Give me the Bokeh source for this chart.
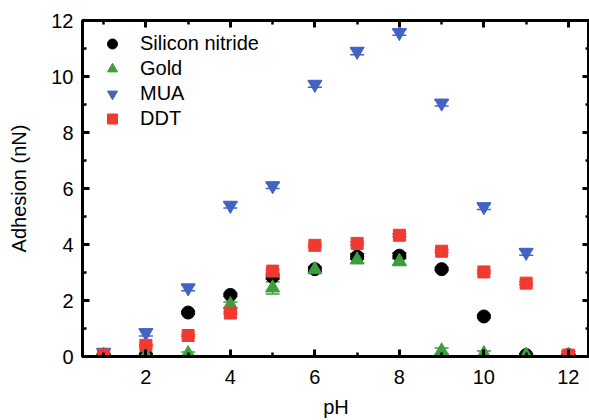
from bokeh.plotting import figure
from bokeh.models import (LinearAxis, SingleIntervalTicker, Range1d, Whisker,
                          ColumnDataSource, TeeHead, CustomJSTickFormatter)
from bokeh.embed import file_html
from bokeh.resources import INLINE

ph = [1, 2, 3, 4, 5, 6, 7, 8, 9, 10, 11, 12]
silicon_nitride = [0.05, 0.05, 1.57, 2.2, 2.85, 3.12, 3.57, 3.6, 3.12, 1.43, 0.05, 0.05]
sn_err = [0.04, 0.04, 0.05, 0.05, 0.08, 0.08, 0.1, 0.1, 0.05, 0.05, 0.04, 0.04]
gold = [0.05, 0.05, 0.1, 1.85, 2.45, 3.1, 3.45, 3.4, 0.2, 0.1, 0.05, 0.05]
gold_err = [0.04, 0.04, 0.06, 0.1, 0.22, 0.1, 0.12, 0.15, 0.1, 0.1, 0.04, 0.04]
mua = [0.15, 0.85, 2.45, 5.4, 6.1, 9.72, 10.9, 11.57, 9.05, 5.35, 3.72, 0.05]
mua_err = [0.1, 0.12, 0.1, 0.1, 0.1, 0.1, 0.12, 0.1, 0.1, 0.1, 0.1, 0.04]
ddt = [0.05, 0.4, 0.75, 1.55, 3.05, 3.97, 4.04, 4.33, 3.76, 3.02, 2.62, 0.05]
ddt_err = [0.04, 0.04, 0.04, 0.04, 0.05, 0.05, 0.05, 0.05, 0.05, 0.05, 0.05, 0.04]

series = [
    ("Silicon nitride", silicon_nitride, sn_err, "circle", "#000000", 13),
    ("Gold", gold, gold_err, "triangle", "#3c9f3c", 14),
    ("MUA", mua, mua_err, "inverted_triangle", "#4462c4", 14),
    ("DDT", ddt, ddt_err, "square", "#ef3a30", 12),
]

FONT = "Liberation Sans"

p = figure(width=589, height=420, x_range=Range1d(0.5, 12.5), y_range=Range1d(0, 12),
           output_backend="svg", toolbar_location=None,
           min_border_left=82, min_border_right=0, min_border_top=20, min_border_bottom=62)
p.xgrid.visible = False
p.ygrid.visible = False
p.outline_line_color = "black"
p.outline_line_width = 3
p.outline_line_alpha = 1

for name, vals, err, marker, color, size in series:
    src = ColumnDataSource(dict(x=ph, y=vals,
                                lo=[v - e for v, e in zip(vals, err)],
                                hi=[v + e for v, e in zip(vals, err)]))
    w = Whisker(source=src, base="x", upper="hi", lower="lo", line_color=color, line_width=1.5,
                upper_head=TeeHead(size=14, line_color=color, line_width=1.5),
                lower_head=TeeHead(size=14, line_color=color, line_width=1.5))
    p.add_layout(w)
    p.scatter("x", "y", source=src, marker=marker, size=size, fill_color=color,
              line_color=color, legend_label=name)

def style(ax, labels=True):
    ax.axis_line_width = 3
    ax.axis_line_color = "black"
    ax.major_tick_in = 7
    ax.major_tick_out = 0
    ax.minor_tick_in = 4
    ax.minor_tick_out = 0
    ax.major_tick_line_width = 3
    ax.major_tick_line_color = "black"
    ax.minor_tick_line_width = 2.5
    ax.minor_tick_line_color = "black"
    ax.major_label_text_font = FONT
    ax.major_label_text_font_size = "20px"
    ax.major_label_text_color = "black"
    ax.major_label_standoff = 9
    ax.axis_label_text_font = FONT
    ax.axis_label_text_font_size = "20px"
    ax.axis_label_text_font_style = "normal"
    ax.axis_label_text_color = "black"
    if not labels:
        ax.formatter = CustomJSTickFormatter(code="return ''")
        ax.major_label_standoff = 0

p.xaxis.ticker = SingleIntervalTicker(interval=2, num_minor_ticks=2)
p.yaxis.ticker = SingleIntervalTicker(interval=2, num_minor_ticks=2)
p.xaxis.axis_label = "pH"
p.yaxis.axis_label = "Adhesion (nN)"
style(p.xaxis[0])
style(p.yaxis[0])
p.xaxis[0].major_label_standoff = 13
p.xaxis[0].axis_label_standoff = 9
p.yaxis[0].axis_label_standoff = 18

top = LinearAxis(ticker=SingleIntervalTicker(interval=2, num_minor_ticks=2))
right = LinearAxis(ticker=SingleIntervalTicker(interval=2, num_minor_ticks=2))
style(top, labels=False)
style(right, labels=False)
p.add_layout(top, "above")
p.add_layout(right, "right")

lg = p.legend[0]
lg.location = "top_left"
lg.border_line_alpha = 0
lg.background_fill_alpha = 0
lg.label_text_font = FONT
lg.label_text_font_size = "20px"
lg.label_text_color = "black"
lg.glyph_width = 38
lg.glyph_height = 25
lg.spacing = 0
lg.margin = 6
lg.padding = 5
lg.label_standoff = 9

open("out.html", "w").write(file_html(p, INLINE))
